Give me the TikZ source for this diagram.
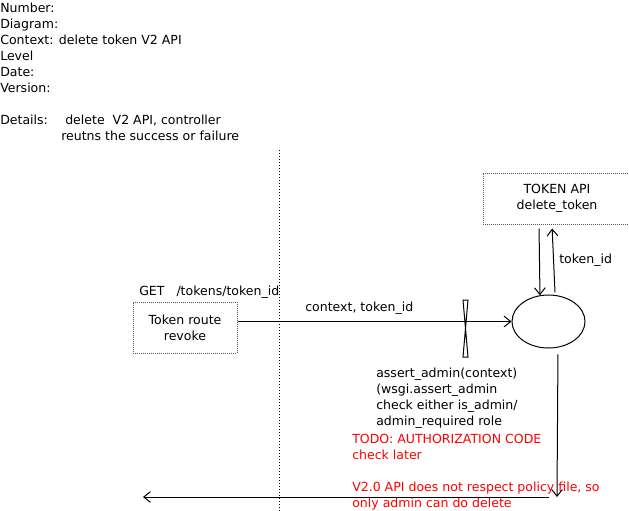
\documentclass[tikz,border=0pt]{standalone}
\usepackage{fontspec}
\setmainfont{DejaVu Sans}
\usetikzlibrary{arrows.meta,shapes.geometric}
\definecolor{tkInk}{HTML}{000000}
\definecolor{tkRed}{HTML}{FF0000}
\definecolor{tkDot}{HTML}{555555}
\tikzset{
 seq/.style={font=\fontsize{9.4}{12}\selectfont,text=tkInk,line cap=butt},
 txt/.style={anchor=base west,inner sep=0pt,align=left},
 todo/.style={txt,text=tkRed},
 dotbox/.style={rectangle,draw=tkDot,line width=.75pt,dash pattern=on .75pt off .75pt,
   align=center,inner sep=0pt},
 hubnode/.style={ellipse,draw=tkInk,line width=.75pt,inner sep=0pt,
   minimum width=54.75pt,minimum height=39.75pt},
 flow/.style={draw=tkInk,line width=.75pt,-{Straight Barb[length=5pt,width=8pt]}},
 lane/.style={draw=tkInk,line width=.75pt,dash pattern=on .75pt off 1.5pt},
 guard/.style={draw=tkInk,line width=.75pt,line join=miter}
}
\begin{document}
\begin{tikzpicture}[seq,x=.75pt,y=-.75pt]
 \useasboundingbox (0,0) rectangle (629,511);
 % header (multi-line texts sit on the baseline of their last line)
 \node[txt] (head) at (0,92) {Number:\\Diagram:\\Context: delete token V2 API\\Level\\Date:\\Version:};
 \node[txt] (details) at (0,124) {Details:};
 \node[txt] (detailtxt) at (61,140) {\hspace*{3pt}delete\ \ V2 API, controller\\reutns the success or failure};
 % lane
 \coordinate (lanetop) at (279,150); \coordinate (lanebot) at (279,511);
 \draw[lane] (lanetop) -- (lanebot);
 % nodes
 \node[txt] (get) at (139,295) {GET\ \ \ /tokens/token\_id};
 \node[dotbox,minimum width=78pt,minimum height=38.25pt] (route) at (185,327.5) {Token route\\revoke};
 \node[dotbox,minimum width=111pt,minimum height=38.25pt] (api) at (557,198.5) {TOKEN API\\delete\_token};
 \node[hubnode] (hub) at (548.5,321.5) {};
 % connectors
 \draw[flow] (route.east |- hub.west) -- (hub.west);
 \node[txt] (ctx) at (305,311) {context, token\_id};
 \draw[guard] (463,300) -- (468,300) -- (463,357) -- (468,357) -- cycle;
 \draw[flow,shorten <=3pt] ([xshift=-13.5pt]api.south) -- (hub.108);
 \draw[flow,shorten <=2pt,shorten >=3pt] (hub.76) -- (api.-101);
 \node[txt] (tid) at (559,263) {token\_id};
 \coordinate (back) at (557,497); \coordinate (turn) at (549,497); \coordinate (caller) at (143,497);
 \draw[flow,shorten <=5pt] (hub.-70) -- (back);
 \draw[flow] (turn) -- (caller);
 % notes
 \node[txt] (check) at (376,425) {assert\_admin(context)\\(wsgi.assert\_admin\\check either is\_admin/\\admin\_required role};
 \node[todo] (later) at (352,507) {TODO: AUTHORIZATION CODE\\check later\\[12pt]V2.0 API does not respect policy file, so\\only admin can do delete};
\end{tikzpicture}
\end{document}
